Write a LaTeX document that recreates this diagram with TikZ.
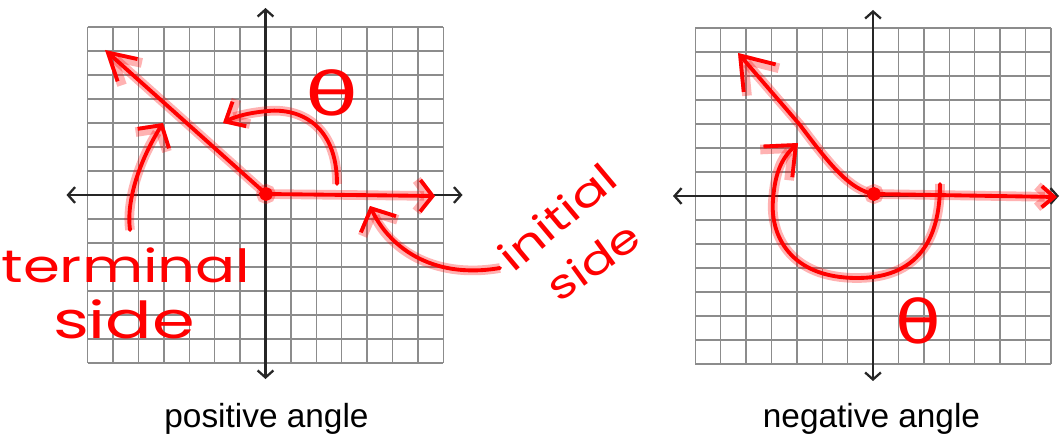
\documentclass[tikz,border=0pt]{standalone}
\usepackage{fontspec}
\setmainfont{Liberation Sans}
\newfontfamily\handfont{Poppins}
\newfontfamily\greekhand{DejaVu Sans}
\usetikzlibrary{arrows.meta}

\begin{document}
\begin{tikzpicture}[x=0.02cm, y=-0.02cm,
        gridline/.style={draw=black!45, line width=0.8pt},
        axis/.style={{Straight Barb[length=4pt, width=9pt]}-{Straight Barb[length=4pt, width=9pt]}, draw=black!85, line width=1.3pt},
        ink/.style={draw=red, line width=2.2pt, line cap=round, line join=round, preaction={draw=red, opacity=0.3, line width=5.5pt}},
        hand/.style={text=red, font=\handfont\fontsize{23}{26}\selectfont, inner sep=0pt},
        theta/.style={text=red, font=\greekhand\fontsize{34}{36}\selectfont, inner sep=0pt},
        caption/.style={font=\fontsize{19}{22}\selectfont, inner sep=0pt}
    ]
        \useasboundingbox (0,0) rectangle (1061,439);

        % left grid
        \begin{scope}[shift={(265.5,195)}]
            \foreach \i in {-7,...,7} {
                \draw[gridline] (\i*25.4,-168) -- (\i*25.4,168);
                \draw[gridline] (-177.8,\i*24) -- (177.8,\i*24);
            }
            \draw[axis] (-199,0) -- (197,0);
            \draw[axis] (0,-187) -- (0,184);
        \end{scope}

        % right grid
        \begin{scope}[shift={(873,196)}]
            \foreach \i in {-7,...,7} {
                \draw[gridline] (\i*25.4,-168) -- (\i*25.4,168);
                \draw[gridline] (-177.8,\i*24) -- (177.8,\i*24);
            }
            \draw[axis] (-200,0) -- (186,0);
            \draw[axis] (0,-186) -- (0,185);
        \end{scope}

        \coordinate (O1) at (266,194);
        \coordinate (T1) at (105,50);
        \coordinate (I1) at (435,196);
        \coordinate (O2) at (874,194);
        \coordinate (T2) at (738,53);
        \coordinate (I2) at (1057,197);

        % positive angle
        \draw[ink, -{Straight Barb[length=15pt, width=17pt]}] (O1) -- (T1);
        \draw[ink, -{Straight Barb[length=7pt, width=18pt]}] (O1) -- (I1);
        \draw[ink, -{Straight Barb[length=9pt, width=16pt]}] (337,184) .. controls (337,125) and (300,108) .. (268,111) .. controls (245,113) and (232,118) .. (223,123);
        \draw[ink, fill=red] (O1) circle (5);
        \node[theta, xscale=1.45] (thetapos) at (332,93) {θ};

        \node[hand, anchor=base, xscale=1.3, font=\handfont\fontsize{26}{28}\selectfont] (terminal) at (126,282) {terminal};
        \node[hand, anchor=base, xscale=1.35, font=\handfont\fontsize{29}{30}\selectfont] (termside) at (124,338) {side};
        \draw[ink, -{Straight Barb[length=9pt, width=21pt]}] (130,230) .. controls (126,200) and (140,160) .. (163,123);

        \node[hand, rotate=40, xscale=1.3] (initial) at (557,217) {initial};
        \node[hand, rotate=36, xscale=1.25] (initside) at (593,261) {side};
        \draw[ink, -{Straight Barb[length=10pt, width=22pt]}] (500,268) .. controls (430,280) and (388,245) .. (370,206);

        % negative angle
        \draw[ink, -{Straight Barb[length=17pt, width=24pt]}] (O2) .. controls (850,190) and (830,165) .. (800,125) -- (T2);
        \draw[ink, -{Straight Barb[length=7pt, width=12pt]}] (O2) -- (I2);
        \draw[ink, -{Straight Barb[length=14pt, width=24pt]}] (940,184) .. controls (940,230) and (925,278) .. (857,278) .. controls (790,278) and (770,235) .. (773,200) .. controls (775,172) and (782,158) .. (798,143);
        \draw[ink, fill=red] (O2) circle (5);
        \node[theta, xscale=1.25] (thetaneg) at (918,321) {θ};

        \node[caption, anchor=base] (poscap) at (266.5,427) {positive angle};
        \node[caption, anchor=base] (negcap) at (871.5,427) {negative angle};
\end{tikzpicture}
\end{document}
